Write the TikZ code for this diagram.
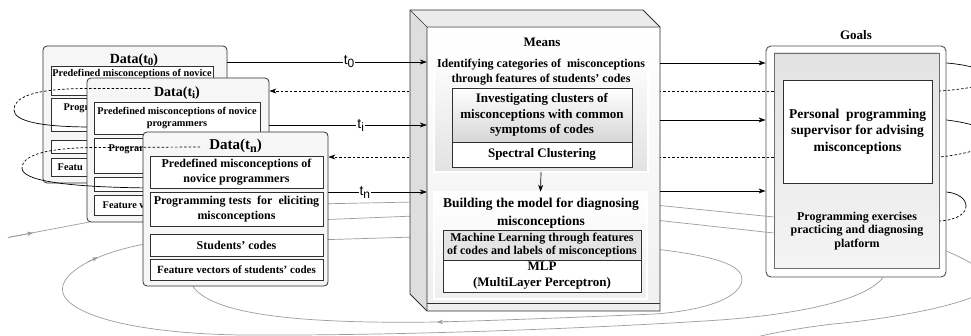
\documentclass[tikz,border=0pt]{standalone}
\usepackage{fontspec}
\setmainfont{Liberation Serif}
\newfontfamily\lblfont{Liberation Sans}
\usetikzlibrary{arrows.meta}
\newcommand\fsz[2]{\fontsize{#1}{#2}\selectfont\bfseries}
\definecolor{edgecol}{HTML}{303030}
\definecolor{trailcol}{HTML}{9C9C9C}
\definecolor{panelcol}{HTML}{F6F6F6}
\definecolor{topface}{HTML}{EBEBEB}
\definecolor{leftface}{HTML}{DEDEDE}
\definecolor{facecol}{HTML}{EFEFEF}
\definecolor{identbot}{HTML}{E2E2E2}
\definecolor{goalstop}{HTML}{E2E2E2}
\definecolor{goalsbot}{HTML}{F4F4F4}
\definecolor{clustbot}{HTML}{D6D6D6}
\definecolor{mlfill}{HTML}{E4E4E4}
\tikzset{
  datapanel/.style={draw=edgecol, line width=0.8pt, rounded corners=4pt, fill=panelcol, inner sep=0pt},
  cell/.style={draw=edgecol, line width=0.8pt, fill=white, inner sep=0pt, align=center},
  meanbox/.style={draw=edgecol, line width=0.5pt, double=white, double distance=1.5pt, inner sep=0pt},
  flow/.style={black, line width=0.7pt, -{Stealth[length=7pt,width=5pt]}},
  backflow/.style={black, line width=0.7pt, dash pattern=on 2.5pt off 2pt, -{Stealth[length=7pt,width=5pt]}},
  loopsolid/.style={black, line width=0.7pt},
  loopdash/.style={black, line width=0.7pt, dash pattern=on 2.5pt off 2pt},
  trail/.style={trailcol, line width=0.7pt},
  trailtip/.style={trailcol, line width=0.7pt, -{Stealth[length=6pt,width=4.5pt]}},
  tlabel/.style={fill=white, inner sep=1pt, font=\lblfont\fontsize{14}{14}\selectfont},
  plain/.style={inner sep=0pt, align=center},
}
\begin{document}
\begin{tikzpicture}[x=1pt,y=-1pt]
\useasboundingbox (0,0) rectangle (971,336);
\fill[white] (0,0) rectangle (971,336);
\clip (0,0) rectangle (971,336);

% ---------- Goals ----------
\node[font=\fsz{13}{13}] (goalstitle) at (856,35) {Goals};
\node[draw=edgecol!85, line width=0.9pt, rounded corners=5pt, fill=white,
      minimum width=180, minimum height=231, inner sep=0pt] (goals) at (856,161.5) {};
\node[draw=edgecol!70, line width=0.6pt, top color=goalstop, bottom color=goalsbot,
      minimum width=165, minimum height=215, inner sep=0pt] (goalsin) at (856.5,160.5) {};
\node[cell, minimum width=149, minimum height=103, font=\fsz{13.5}{16.5}] (advisor) at (857.5,131.5)
  {Personal\ \ programming\\supervisor for advising\\misconceptions};
\node[plain, font=\fsz{12}{13.8}] (platform) at (857,231)
  {Programming exercises\\practicing and diagnosing\\platform};

% loops leaving the goals on the right
\draw[loopsolid] (goals.east |- 0,63) .. controls (972,65) and (992,72) .. (992,78);
\draw[loopdash] (992,78) .. controls (992,84) and (970,89) .. (goalsin.east |- 0,91);
\draw[loopsolid] (goals.east |- 0,120) .. controls (972,123) and (992,130) .. (992,138);
\draw[loopdash] (992,138) .. controls (992,146) and (970,154) .. (goalsin.east |- 0,157);
\draw[loopsolid] (goals.east |- 0,192) .. controls (958,193) and (966,199) .. (966,206);
\draw[loopdash] (966,206) .. controls (966,213) and (958,220) .. (goalsin.east |- 0,221);

% later cycles: means to goals, and goals out past the page
\coordinate (mgA) at (655,205);
\coordinate (mgB) at (655,220);
\draw[trail] (mgA) -- (goalsin.west |- 0,217);
\draw[trail] (mgB) -- (goalsin.west |- 0,233);
\draw[trail] (goals.east |- 0,251) .. controls (962,258) and (985,268) .. (990,282)
  .. controls (994,300) and (900,318) .. (833,324)
  .. controls (800,328) and (770,333) .. (745,340);

% incoming trail on the left
\coordinate (leftin) at (8,237.5);
\coordinate (tiback) at (100,220);
\draw[trail] (leftin) -- (tiback);
\draw[trailtip] (leftin) -- (33,232.8);

% ---------- Data(t0), partly behind Data(ti) ----------
\begin{scope}[even odd rule]
\clip (0,0) rectangle (971,336) (87,78) rectangle (269,222);
\node[datapanel, minimum width=184, minimum height=137] (dt0) at (135,114.5) {};
\node[font=\fsz{14}{14}] (dt0t) at (134,60) {Data(t\lower2.5pt\hbox{\fontsize{11}{11}\selectfont 0})};
\node[cell, minimum width=162, minimum height=29, font=\fsz{10.3}{12.5}] (dt0a) at (132,80.5)
  {Predefined misconceptions of novice\\\phantom{programmers}};
\node[cell, minimum width=162, minimum height=33, font=\fsz{10.3}{12.5}] (dt0b) at (132,114.5)
  {Progr\phantom{amming tests for eliciting}\\\phantom{misconceptions}};
\node[cell, minimum width=162, minimum height=13, font=\fsz{10.3}{12}] (dt0c) at (132,147) {\phantom{Students' codes}};
\node[cell, minimum width=162, minimum height=18, font=\fsz{10.3}{12}] (dt0d) at (132,167) {Featu\phantom{re vectors of students' codes}};
\end{scope}

% first loop, lower half
\coordinate (loopAapex) at (14,110);
\draw[loopsolid] (loopAapex) .. controls (14,121) and (40,127) .. (92,127);

% ---------- Data(ti), partly behind Data(tn) ----------
\begin{scope}[even odd rule]
\clip (0,0) rectangle (971,336) (143,132) rectangle (328,286);
\node[datapanel, minimum width=182, minimum height=144] (dti) at (178,150) {};
\node[font=\fsz{14}{14}] (dtit) at (177,93) {Data(t\lower2.5pt\hbox{\fontsize{11}{11}\selectfont i})};
\node[cell, minimum width=166, minimum height=32, font=\fsz{10.3}{12.5}] (dtia) at (177,118)
  {Predefined misconceptions of novice\\programmers};
\node[cell, minimum width=166, minimum height=35, font=\fsz{10.3}{12.5}] (dtib) at (177,155.5)
  {Program\phantom{ming tests for eliciting}\\\phantom{misconceptions}};
\node[cell, minimum width=166, minimum height=14, font=\fsz{10.3}{12}] (dtic) at (177,184) {\phantom{Students' codes}};
\node[cell, minimum width=166, minimum height=20, font=\fsz{10.3}{12}] (dtid) at (177,205) {Feature v\phantom{ectors of students' codes}};
\end{scope}

% first loop, upper half; second loop, lower half
\draw[loopdash] (150,88.5) -- (85,88.5) .. controls (30,89) and (14,98) .. (loopAapex);
\coordinate (loopBapex) at (22,168);
\draw[loopsolid] (loopBapex) .. controls (22,180) and (60,187) .. (150,188);

% later cycles coming back round to the data
\draw[trail] (655,249) .. controls (715,256) and (742,265) .. (742,279)
  .. controls (742,296) and (710,310) .. (655,314)
  .. controls (560,318) and (480,321) .. (437,322)
  .. controls (300,324) and (200,315) .. (190,280);
\draw[trailtip] (448,321.8) -- (437,322);
\draw[trail] (goals.south -| 883,0) .. controls (866,300) and (800,314) .. (720,320)
  .. controls (600,328) and (400,336) .. (240,335)
  .. controls (120,333) and (55,310) .. (63,285)
  .. controls (70,265) and (110,250) .. (150,243);
\draw[trailtip] (88,261.6) -- (98,257.3);
\draw[trail] (315,204) -- (415,202);
\draw[trail] (315,220) -- (415,216);
\draw[trail] (315,240) -- (415,237);

% ---------- Data(tn) ----------
\node[datapanel, minimum width=185, minimum height=154] (dtn) at (235.5,209) {};
\node[font=\fsz{15}{15}] (dtnt) at (235.5,146) {Data(t\lower3pt\hbox{\fontsize{12}{12}\selectfont n})};
\node[cell, minimum width=173, minimum height=32, font=\fsz{12}{15}] (dtna) at (236.5,172)
  {Predefined misconceptions of\\novice programmers};
\node[cell, minimum width=173, minimum height=34, font=\fsz{12}{15}] (dtnb) at (236.5,209)
  {Programming tests\ \ for\ \ eliciting\\misconceptions};
\node[cell, minimum width=173, minimum height=22, font=\fsz{12}{12}] (dtnc) at (236.5,245) {Students' codes};
\node[cell, minimum width=173, minimum height=21, font=\fsz{11}{11}] (dtnd) at (236.5,269.5) {Feature vectors of students' codes};

% second loop, upper half
\draw[loopdash] (200,147) -- (95,147.5) .. controls (40,148) and (22,157) .. (loopBapex);

% feedback from the goals to the data
\draw[backflow] (goalsin.west |- 0,91) -- (dti.east |- 0,91);
\draw[backflow] (goalsin.west |- 0,157) -- (dtn.east |- 0,157);

% ---------- Means (cube) ----------
\fill[topface] (410,10) -- (643,10) -- (660,27) -- (427,27) -- cycle;
\fill[leftface] (410,10) -- (427,27) -- (427,311) -- (410,294) -- cycle;
\node[minimum width=233, minimum height=284, inner sep=0pt, top color=white, bottom color=facecol] (means) at (543.5,169) {};
\draw[edgecol, line width=0.8pt, line join=round] (410,10) -- (643,10) -- (660,27) -- (660,311) -- (427,311) -- (410,294) -- cycle;
\draw[edgecol, line width=0.6pt] (410,10) -- (427,27) -- (660,27) (427,27) -- (427,311);
\draw[edgecol, line width=0.5pt] (427,303) -- (660,303);

\node[font=\fsz{13}{13}] (meanstitle) at (542,42) {Means};
\node[meanbox, minimum width=214, minimum height=118, top color=white, bottom color=identbot] (ident) at (541,113) {};
\node[plain, font=\fsz{12}{15}] (identtxt) at (541,72.5)
  {Identifying categories of\ \ misconceptions\\through features of students' codes};
\node[draw=edgecol, line width=0.7pt, minimum width=180, minimum height=54, top color=white, bottom color=clustbot,
      font=\fsz{13}{15.5}, align=center, inner sep=0pt] (cluster) at (542,115)
  {Investigating clusters of\\misconceptions with common\\symptoms of codes};
\node[cell, minimum width=180, minimum height=25, font=\fsz{13}{13}] (spectral) at (542,154.5) {Spectral Clustering};

\node[meanbox, minimum width=213, minimum height=107, top color=white, bottom color=facecol] (build) at (540.5,245.5) {};
\node[plain, font=\fsz{13.5}{18}] (buildtxt) at (541,213)
  {Building the model for diagnosing\\misconceptions};
\node[draw=edgecol, line width=0.7pt, fill=mlfill, minimum width=198, minimum height=30,
      font=\fsz{12}{13.5}, align=center, inner sep=0pt] (mlearn) at (542,245)
  {Machine Learning through features\\of codes and labels of misconceptions};
\node[cell, minimum width=198, minimum height=32, font=\fsz{13}{16}] (mlp) at (542,276)
  {MLP\\(MultiLayer Perceptron)};
\draw[flow] (ident.south) -- (build.north);

% ---------- data into means, means into goals ----------
\draw[flow] (dt0.east |- 0,62) -- node[tlabel, pos=0.61] (lab0) {t\lower3pt\hbox{\fontsize{12}{12}\selectfont 0}} (means.west |- 0,62);
\draw[flow] (dti.east |- 0,125) -- node[tlabel, pos=0.58] (labi) {t\lower3pt\hbox{\fontsize{12}{12}\selectfont i}} (means.west |- 0,125);
\draw[flow] (dtn.east |- 0,192) -- node[tlabel, pos=0.37] (labn) {t\lower3pt\hbox{\fontsize{12}{12}\selectfont n}} (means.west |- 0,192);
\draw[flow] (means.east |- 0,63) -- (goals.west |- 0,63);
\draw[flow] (means.east |- 0,120) -- (goals.west |- 0,120);
\draw[flow] (means.east |- 0,191) -- (goals.west |- 0,191);
\end{tikzpicture}
\end{document}
